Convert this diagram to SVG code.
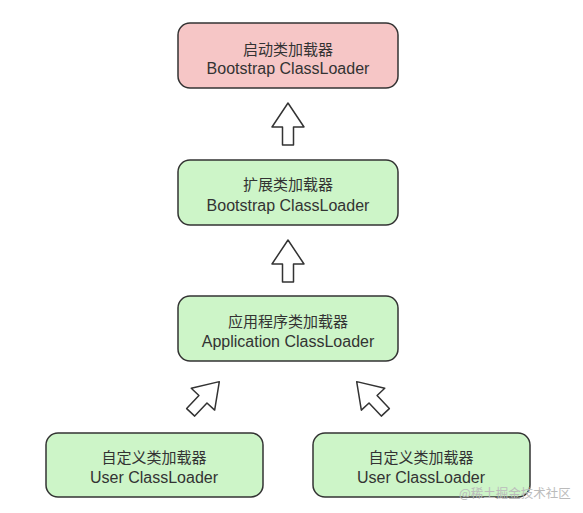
<svg xmlns="http://www.w3.org/2000/svg" width="583" height="513" viewBox="0 0 583 513">
<style>
.box{stroke:#333;stroke-width:1.5}
.pink{fill:#F6C6C6}
.green{fill:#CDF5C8}
.zh{font-family:"Noto Sans CJK SC","Liberation Sans",sans-serif;font-size:15px;fill:#333;text-anchor:middle;dominant-baseline:central}
.en{font-family:"Liberation Sans",Arial,sans-serif;font-size:16px;fill:#333;text-anchor:middle;dominant-baseline:central}
.arrow{fill:#fff;stroke:#333;stroke-width:1.5;stroke-linejoin:round}
.wm{font-family:"Noto Sans CJK SC",sans-serif;font-size:12.5px;fill:#bbb;dominant-baseline:central}
</style>
<defs>
<path id="up" d="M0,-21 L16,3 L5.5,3 L5.5,21 L-5.5,21 L-5.5,3 L-16,3 Z"/>
</defs>
<rect width="583" height="513" fill="#fff"/>
<g id="connectors">
<use href="#up" class="arrow" transform="translate(288,124)"/>
<use href="#up" class="arrow" transform="translate(288,261)"/>
<use href="#up" class="arrow" transform="translate(205,397) rotate(43)"/>
<use href="#up" class="arrow" transform="translate(371,397) rotate(-43)"/>
</g>
<g id="bootstrap">
<rect class="box pink" x="178" y="23" width="220" height="65" rx="12"/>
<text class="zh" x="288" y="48">启动类加载器</text>
<text class="en" x="288" y="68.5">Bootstrap ClassLoader</text>
</g>
<g id="extension">
<rect class="box green" x="178" y="160" width="220" height="65" rx="12"/>
<text class="zh" x="288" y="183.5">扩展类加载器</text>
<text class="en" x="288" y="205">Bootstrap ClassLoader</text>
</g>
<g id="application">
<rect class="box green" x="178" y="296" width="220" height="65" rx="12"/>
<text class="zh" x="288" y="320">应用程序类加载器</text>
<text class="en" x="288" y="341">Application ClassLoader</text>
</g>
<g id="user1">
<rect class="box green" x="46" y="433" width="217" height="64" rx="12"/>
<text class="zh" x="154" y="456">自定义类加载器</text>
<text class="en" x="154" y="477">User ClassLoader</text>
</g>
<g id="user2">
<rect class="box green" x="313" y="433" width="217" height="64" rx="12"/>
<text class="zh" x="421" y="456">自定义类加载器</text>
<text class="en" x="421" y="477">User ClassLoader</text>
</g>
<text class="wm" x="459" y="492">@稀土掘金技术社区</text>
</svg>
